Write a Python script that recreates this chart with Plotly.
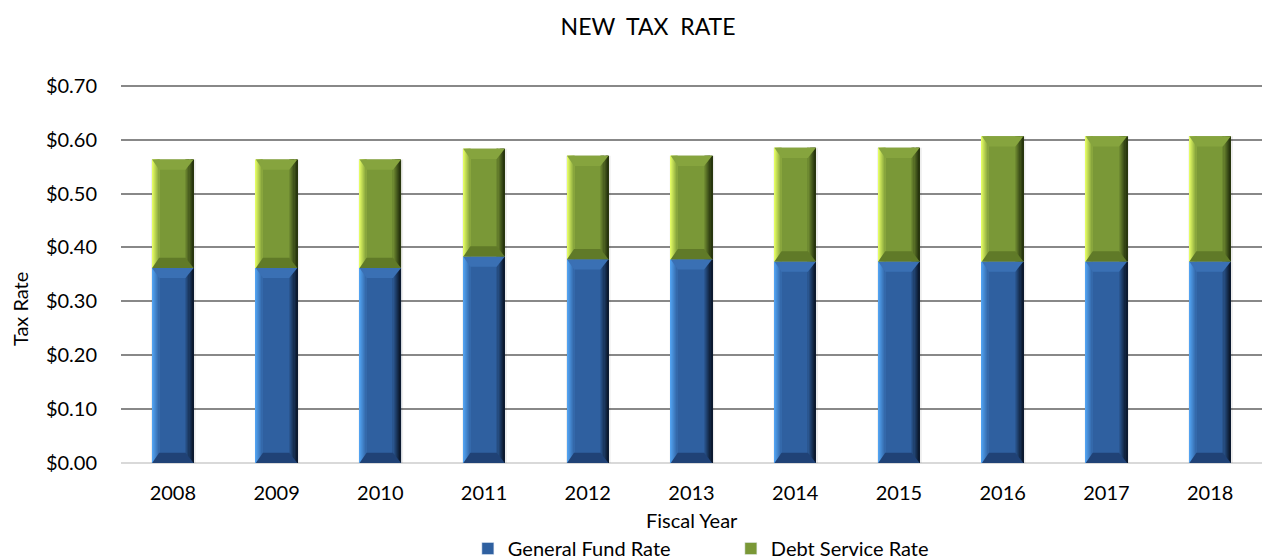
import plotly.graph_objects as go

# Fiscal years and the two components of the property tax rate ($ per $100)
years = ["2008", "2009", "2010", "2011", "2012", "2013", "2014", "2015", "2016", "2017", "2018"]
general_fund = [0.362, 0.362, 0.362, 0.383, 0.378, 0.378, 0.374, 0.374, 0.374, 0.374, 0.374]
debt_service = [0.201, 0.201, 0.201, 0.200, 0.192, 0.192, 0.211, 0.211, 0.232, 0.232, 0.232]

y_ticks = [0.0, 0.1, 0.2, 0.3, 0.4, 0.5, 0.6, 0.7]

FONT = "Lato"
BAR_W = 0.40          # bar width in category units
BEVEL_X = 0.068       # bevel band width (category units)
BEVEL_Y = 0.019       # bevel band height (data units)
Y_MAX = 0.705


def rgb(c):
    return "rgb({},{},{})".format(*[round(v) for v in c])


def mix(c1, c2, t):
    return rgb([a + (b - a) * t for a, b in zip(c1, c2)])


series = [
    # name, values, light edge, body, dark edge, top bevel, bottom bevel
    ("General Fund Rate", general_fund, (82, 162, 240), (47, 96, 160), (12, 26, 48),
     (58, 112, 180), (32, 66, 118)),
    ("Debt Service Rate", debt_service, (228, 252, 100), (122, 152, 55), (40, 54, 14),
     (134, 164, 62), (96, 122, 40)),
]

fig = go.Figure()

# soft drop shadow behind each full stack
totals = [g + d for g, d in zip(general_fund, debt_service)]
fig.add_trace(go.Bar(
    x=years, y=[t + 0.004 for t in totals], base=[-0.004] * len(years), width=BAR_W + 0.03,
    offset=-BAR_W / 2 - 0.01, marker=dict(color="rgba(0,0,0,0.07)", line=dict(width=0)),
    showlegend=False, hoverinfo="skip",
))

shapes = []
base = [0.0] * len(years)
for name, vals, light, body, dark, top_c, bot_c in series:
    # main body of each stacked segment
    fig.add_trace(go.Bar(
        x=years, y=vals, base=base, width=BAR_W,
        marker=dict(color=rgb(body), line=dict(width=0)),
        showlegend=False, hoverinfo="skip",
    ))
    # left highlight and right shadow stripes
    n = 7
    for i in range(n):
        w = BEVEL_X / n
        fig.add_trace(go.Bar(
            x=years, y=vals, base=base, width=w, offset=-BAR_W / 2 + i * w,
            marker=dict(color=mix(light, body, i / n), line=dict(width=0)),
            showlegend=False, hoverinfo="skip",
        ))
    rw = BEVEL_X * 1.15
    for i in range(n):
        w = rw / n
        fig.add_trace(go.Bar(
            x=years, y=vals, base=base, width=w, offset=BAR_W / 2 - rw + i * w,
            marker=dict(color=mix(body, dark, (i + 1) / n), line=dict(width=0)),
            showlegend=False, hoverinfo="skip",
        ))
    # mitred top and bottom bevel bands
    for k, (b, v) in enumerate(zip(base, vals)):
        t = b + v
        x0, x1 = k - BAR_W / 2, k + BAR_W / 2
        shapes.append(dict(
            type="path", xref="x", yref="y", layer="above", line=dict(width=0),
            fillcolor=rgb(top_c),
            path=f"M{x0},{t} L{x1},{t} L{x1 - rw},{t - BEVEL_Y} L{x0 + BEVEL_X},{t - BEVEL_Y} Z",
        ))
        shapes.append(dict(
            type="path", xref="x", yref="y", layer="above", line=dict(width=0),
            fillcolor=rgb(bot_c),
            path=f"M{x0},{b} L{x1},{b} L{x1 - rw},{b + BEVEL_Y} L{x0 + BEVEL_X},{b + BEVEL_Y} Z",
        ))
    # legend entry
    fig.add_trace(go.Bar(
        x=[None], y=[None], name=name,
        marker=dict(color=rgb(body)), showlegend=True,
    ))
    base = [b + v for b, v in zip(base, vals)]

fig.update_layout(
    width=1262, height=560,
    barmode="overlay",
    paper_bgcolor="white", plot_bgcolor="white",
    margin=dict(l=121, r=0, t=83, b=97, autoexpand=False),
    font=dict(family=FONT, size=20, color="#000000"),
    title=dict(text="NEW  TAX  RATE", x=0.5135, xanchor="center", y=0.952, yanchor="middle",
               font=dict(family=FONT, size=23, color="#000000")),
    legend=dict(orientation="h", x=0.304, xanchor="left", y=-0.225, yanchor="middle",
                font=dict(family=FONT, size=20), traceorder="normal",
                entrywidth=218),
    showlegend=True,
    shapes=shapes,
    annotations=[
        dict(text="Fiscal Year", xref="paper", yref="paper", x=0.5, y=-0.151,
             xanchor="center", yanchor="middle", showarrow=False, font=dict(size=20)),
        dict(text="Tax Rate", xref="paper", yref="paper", x=-0.0885, y=0.405,
             xanchor="center", yanchor="middle", textangle=-90, showarrow=False,
             font=dict(size=20)),
    ],
)
fig.update_xaxes(
    type="category", range=[-0.5, len(years) - 0.5],
    showgrid=False, showline=False, ticks="", tickfont=dict(size=20),
    ticklabelstandoff=16,
)
fig.update_yaxes(
    range=[0, Y_MAX], tickvals=y_ticks, tickformat="$.2f",
    showgrid=True, gridcolor="#888888", gridwidth=2,
    zeroline=True, zerolinecolor="#D9D9D9", zerolinewidth=2,
    ticks="", tickfont=dict(size=20), ticklabelstandoff=23,
)

fig.write_html("out.html")
